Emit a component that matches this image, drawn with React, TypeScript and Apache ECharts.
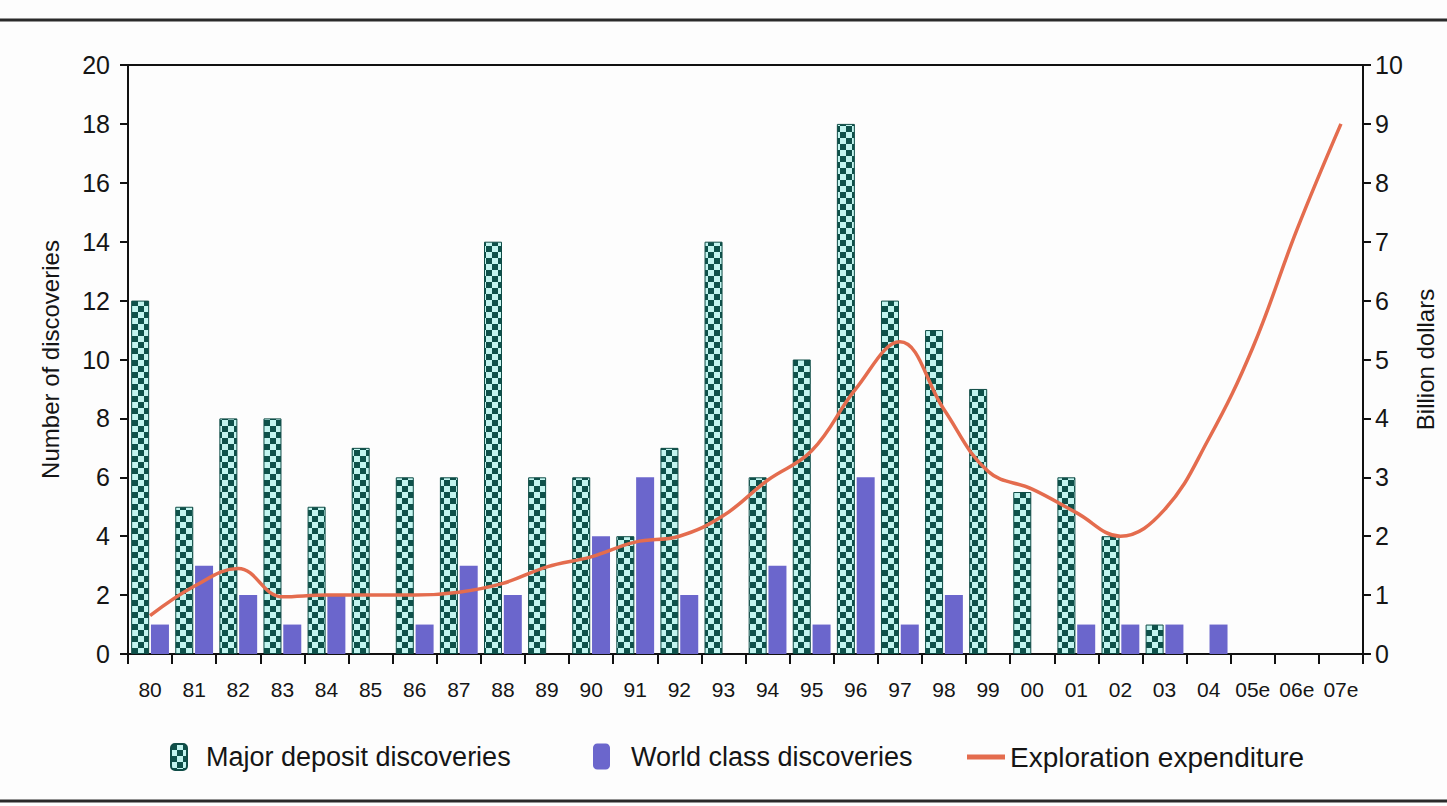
import React, { useEffect, useRef } from "react";
import * as echarts from "echarts";

const categories = ["80","81","82","83","84","85","86","87","88","89","90","91","92","93","94","95","96","97","98","99","00","01","02","03","04","05e","06e","07e"];
const majorDeposits = [12,5,8,8,5,7,6,6,14,6,6,4,7,14,6,10,18,12,11,9,5.5,6,4,1,0,0,0,0];
const worldClass = [1,3,2,1,2,0,1,3,2,0,4,6,2,0,3,1,6,1,2,0,0,1,1,1,1,0,0,0];
const expenditure = [0.65,1.15,1.45,0.97,1.0,1.0,1.0,1.05,1.2,1.48,1.65,1.9,2.0,2.35,2.95,3.45,4.5,5.3,4.15,3.1,2.8,2.4,2.0,2.45,3.65,5.2,7.2,9.0];
const leftTicks = { min: 0, max: 20, interval: 2 };
const rightTicks = { min: 0, max: 10, interval: 1 };

const FONT = "'Liberation Sans', Arial, sans-serif";
const noZero = (arr: number[]) => arr.map((v) => (v === 0 ? null : v));

export default function App() {
  const ref = useRef<HTMLDivElement>(null);
  useEffect(() => {
    if (!ref.current) return;
    const chart = echarts.init(ref.current, null, { renderer: "svg" });
    const c = document.createElement("canvas");
    c.width = 12;
    c.height = 12;
    const ctx = c.getContext("2d")!;
    ctx.fillStyle = "#c2f4ef";
    ctx.fillRect(0, 0, 12, 12);
    ctx.fillStyle = "#0e514a";
    ctx.fillRect(0, 0, 6, 6);
    ctx.fillRect(6, 6, 6, 6);
    const pattern: any = { image: c, repeat: "repeat" };

    const legendText = { fontSize: 27, color: "#151515", fontFamily: FONT, padding: [0, 0, 0, 14] };
    chart.setOption({
      animation: false,
      backgroundColor: "#fdfdfd",
      textStyle: { fontFamily: FONT },
      grid: {
        left: 128, right: 84, top: 65, bottom: 152,
        show: true, borderColor: "#111", borderWidth: 2, backgroundColor: "transparent",
      },
      legend: [
        {
          data: ["Major deposit discoveries"], left: 165, top: 738,
          itemWidth: 16, itemHeight: 26, textStyle: legendText,
        },
        {
          data: ["World class discoveries"], left: 588, top: 738,
          itemWidth: 17, itemHeight: 26, textStyle: { ...legendText, padding: [0, 0, 0, 16] },
        },
        {
          data: [{ name: "Exploration expenditure", icon: "rect" }], left: 962, top: 738,
          itemWidth: 38, itemHeight: 5, textStyle: { ...legendText, fontSize: 28, padding: [0, 0, 0, 0] },
        },
      ],
      xAxis: {
        type: "category",
        data: categories,
        axisLine: { lineStyle: { color: "#111", width: 2 } },
        axisTick: { show: true, length: 10, lineStyle: { color: "#111", width: 2 } },
        axisLabel: { color: "#151515", fontSize: 21, margin: 25, interval: 0, fontFamily: FONT },
      },
      yAxis: [
        {
          type: "value",
          ...leftTicks,
          name: "Number of discoveries",
          nameLocation: "middle",
          nameRotate: 90,
          nameGap: 66,
          nameTextStyle: { fontSize: 24, color: "#151515", fontFamily: FONT },
          axisLine: { show: true, lineStyle: { color: "#111", width: 2 } },
          axisTick: { show: true, length: 8, lineStyle: { color: "#111", width: 2 } },
          axisLabel: { color: "#151515", fontSize: 25, margin: 18, fontFamily: FONT },
          splitLine: { show: false },
        },
        {
          type: "value",
          ...rightTicks,
          position: "right",
          name: "Billion dollars",
          nameLocation: "middle",
          nameRotate: 90,
          nameGap: 50,
          nameTextStyle: { fontSize: 24, color: "#151515", fontFamily: FONT },
          axisLine: { show: true, lineStyle: { color: "#111", width: 2 } },
          axisTick: { show: true, length: 8, lineStyle: { color: "#111", width: 2 } },
          axisLabel: { color: "#151515", fontSize: 25, margin: 12, fontFamily: FONT },
          splitLine: { show: false },
        },
      ],
      series: [
        {
          name: "Major deposit discoveries",
          type: "bar",
          data: noZero(majorDeposits),
          barWidth: 18,
          barGap: "10%",
          itemStyle: { color: pattern, borderColor: "#0f4c46", borderWidth: 1 },
        },
        {
          name: "World class discoveries",
          type: "bar",
          data: noZero(worldClass),
          barWidth: 18,
          barGap: "10%",
          itemStyle: { color: "#6b66cc" },
        },
        {
          name: "Exploration expenditure",
          type: "line",
          yAxisIndex: 1,
          data: expenditure,
          smooth: 0.4,
          symbol: "none",
          lineStyle: { color: "#e46c4e", width: 3.5 },
          itemStyle: { color: "#e46c4e" },
          z: 5,
        },
      ],
      graphic: [
        { type: "line", shape: { x1: 0, y1: 20, x2: 1447, y2: 20 }, style: { stroke: "#2a2a2a", lineWidth: 3 } },
        { type: "line", shape: { x1: 0, y1: 801, x2: 1447, y2: 801 }, style: { stroke: "#2a2a2a", lineWidth: 3 } },
      ],
    });
    return () => chart.dispose();
  }, []);
  return (
    <div
      ref={ref}
      style={{ position: "fixed", left: 0, top: 0, width: 1447, height: 806 }}
    />
  );
}
